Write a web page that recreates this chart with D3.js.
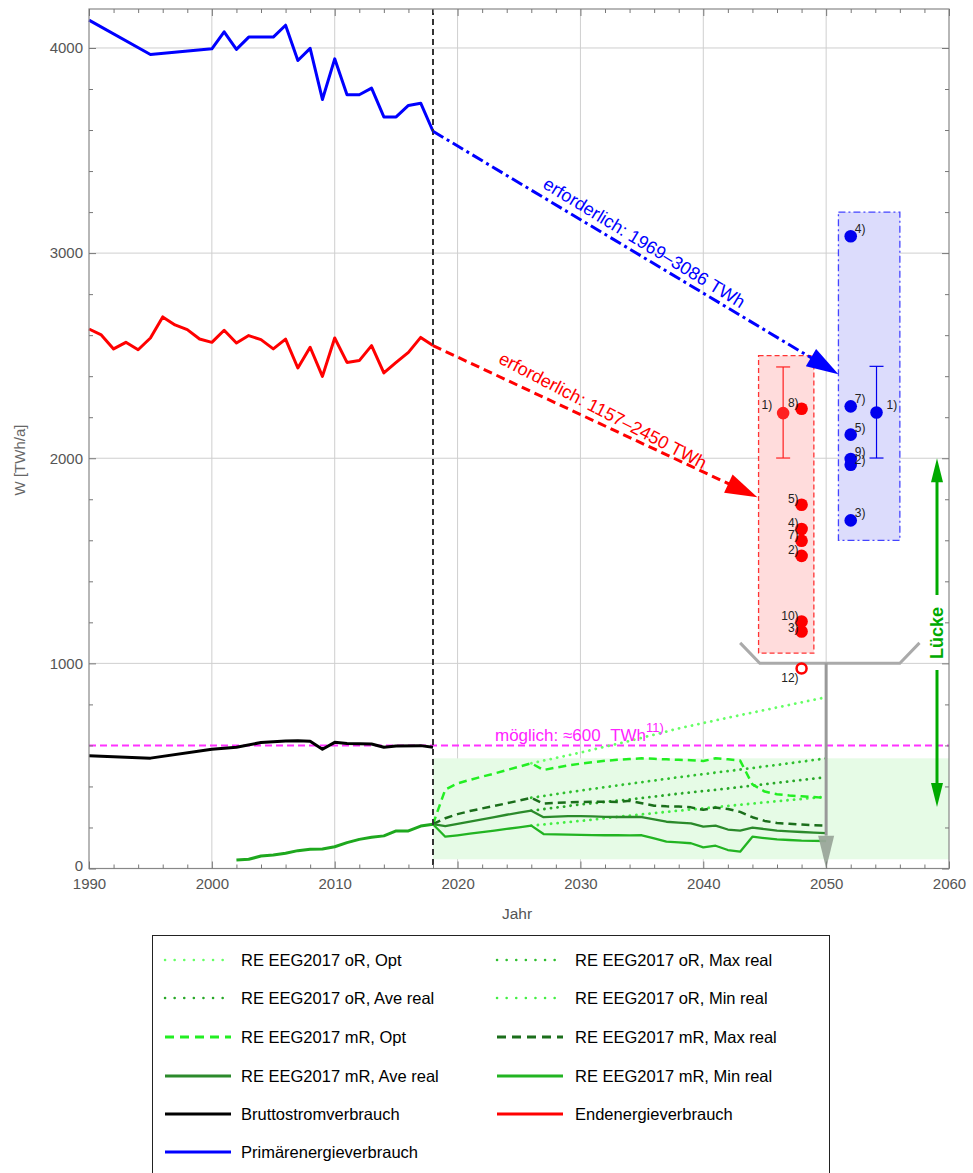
<!DOCTYPE html>
<html><head><meta charset="utf-8">
<script src="https://cdn.jsdelivr.net/npm/d3@7/dist/d3.min.js"></script>
<style>
html,body{margin:0;padding:0;background:#fff;}
svg{display:block;font-family:"Liberation Sans",Arial,sans-serif;}
</style></head>
<body><svg id="c" width="973" height="1173"></svg>
<script>
// ---------- DATA ----------
const primYears = [1990,1995,2000,2001,2002,2003,2004,2005,2006,2007,2008,2009,2010,2011,2012,2013,2014,2015,2016,2017,2018];
const primValues = [4136,3968,3996,4079,3993,4053,4053,4053,4111,3939,3998,3749,3947,3772,3772,3804,3664,3664,3720,3731,3594];

const endYears = [1990,1991,1992,1993,1994,1995,1996,1997,1998,1999,2000,2001,2002,2003,2004,2005,2006,2007,2008,2009,2010,2011,2012,2013,2014,2015,2016,2017,2018];
const endValues = [2630,2601,2533,2565,2529,2586,2689,2650,2627,2581,2565,2624,2562,2598,2578,2533,2581,2440,2541,2399,2586,2467,2476,2549,2416,2467,2516,2589,2549];

const stromYears = [1990,1995,2000,2002,2004,2006,2007,2008,2009,2010,2011,2013,2014,2015,2017,2018];
const stromValues = [550,538,581,591,614,622,623,620,581,615,609,607,591,597,599,591];

const reHistYears = [2002,2003,2004,2005,2006,2007,2008,2009,2010,2011,2012,2013,2014,2015,2016,2017,2018];
const reHistValues = [41,45,61,66,74,87,94,95,106,126,142,152,159,183,183,207,216];

const futYears = [2018,2019,2020,2021,2022,2023,2024,2025,2026,2027,2028,2029,2030,2031,2032,2033,2034,2035,2036,2037,2038,2039,2040,2041,2042,2043,2044,2045,2046,2047,2048,2049,2050];
const mROpt     = [216,385,415,432,448,463,480,496,513,480,492,502,511,518,525,530,534,537,535,532,530,528,524,537,532,526,410,375,362,356,352,348,344];
const mRMaxReal = [216,245,265,280,293,305,318,331,345,316,320,322,324,325,326,324,330,318,306,303,302,298,286,297,290,276,250,232,222,218,214,211,209];
const mRAveReal = [216,207,218,229,240,251,262,272,282,250,253,255,255,254,252,251,251,251,240,228,224,220,204,209,190,185,199,192,185,181,178,175,172];
const mRMinReal = [216,155,162,170,177,185,193,201,209,168,166,165,164,163,162,162,161,162,147,131,127,123,103,111,90,82,155,148,142,139,136,135,134];

const oRYears   = [2026,2030,2034,2038,2042,2046,2050];
const oROpt     = [513,565,622,683,735,785,835];
const oRMaxReal = [345,380,413,445,475,505,537];
const oRAveReal = [282,312,337,365,390,418,445];
const oRMinReal = [209,232,258,282,305,328,350];

const redPtYear = 2048;
const redPtLabels = ["8)","5)","4)","7)","2)","10)","3)"];
const redPtValues = [2241,1773,1655,1598,1524,1204,1155];
const redErr = {year:2046.5, value:2220, lo:2001, hi:2445, label:"1)"};
const redOpen = {year:2048, value:975, label:"12)"};
const redBox = {x0:2044.5, x1:2049, y0:1050, y1:2500};

const bluePtYear = 2052;
const bluePtLabels = ["4)","7)","5)","9)","2)","3)"];
const bluePtValues = [3082,2253,2115,1996,1968,1697];
const blueErr = {year:2054.1, value:2223, lo:2001, hi:2448, label:"1)"};
const blueBox = {x0:2051, x1:2056, y0:1600, y1:3200};

const possibleValue = 600;
const greenBand = {x0:2018, x1:2060, y0:45, y1:537};
const gapRange = [300, 2000];
const bracketYears = [2043, 2044.6, 2056, 2057.6];
const bracketValues = [1100, 1000, 1000, 1100];

const xMajor = [1990,2000,2010,2020,2030,2040,2050,2060];
const yMajor = [0,1000,2000,3000,4000];

const legendItems = [
  ["RE EEG2017 oR, Opt", "#66ff66", "dot"],
  ["RE EEG2017 oR, Max real", "#2fbf2f", "dot"],
  ["RE EEG2017 oR, Ave real", "#28a828", "dot"],
  ["RE EEG2017 oR, Min real", "#44ee44", "dot"],
  ["RE EEG2017 mR, Opt", "#22ee22", "dash"],
  ["RE EEG2017 mR, Max real", "#1b6e1b", "dash"],
  ["RE EEG2017 mR, Ave real", "#2b8a2b", "solid"],
  ["RE EEG2017 mR, Min real", "#22b422", "solid"],
  ["Bruttostromverbrauch", "#000000", "solid"],
  ["Endenergieverbrauch", "#ff0000", "solid"],
  ["Primärenergieverbrauch", "#0000ff", "solid"]
];

// ---------- SCALES ----------
const svg = d3.select("#c");
const X = d3.scaleLinear().domain([1990,2060]).range([89,949]);
const Y = d3.scaleLinear().domain([0,4190]).range([868.5,9]);
const line = d3.line().x(d=>X(d[0])).y(d=>Y(d[1]));
const zip = (a,b)=>a.map((v,i)=>[v,b[i]]);

// grid
const g = svg.append("g");
g.selectAll(".vg").data(xMajor.slice(1,-1)).join("line")
  .attr("x1",d=>X(d)).attr("x2",d=>X(d)).attr("y1",Y.range()[1]).attr("y2",Y.range()[0])
  .attr("stroke","#cfcfcf").attr("stroke-width",1);
g.selectAll(".hg").data(yMajor.slice(1)).join("line")
  .attr("x1",X.range()[0]).attr("x2",X.range()[1]).attr("y1",d=>Y(d)).attr("y2",d=>Y(d))
  .attr("stroke","#cfcfcf").attr("stroke-width",1);

// green band
svg.append("rect").attr("x",X(greenBand.x0)).attr("width",X(greenBand.x1)-X(greenBand.x0))
  .attr("y",Y(greenBand.y1)).attr("height",Y(greenBand.y0)-Y(greenBand.y1))
  .attr("fill","#e6fbe6");

// boxes
svg.append("rect").attr("x",X(redBox.x0)).attr("width",X(redBox.x1)-X(redBox.x0))
  .attr("y",Y(redBox.y1)).attr("height",Y(redBox.y0)-Y(redBox.y1))
  .attr("fill","#ffdcdc").attr("stroke","#ff3333").attr("stroke-width",1.3).attr("stroke-dasharray","5,3");
svg.append("rect").attr("x",X(blueBox.x0)).attr("width",X(blueBox.x1)-X(blueBox.x0))
  .attr("y",Y(blueBox.y1)).attr("height",Y(blueBox.y0)-Y(blueBox.y1))
  .attr("fill","#dcdcfc").attr("stroke","#4444ff").attr("stroke-width",1.3).attr("stroke-dasharray","7,3,2,3");

// magenta possible line
svg.append("line").attr("x1",X(1990)).attr("x2",X(2060)).attr("y1",Y(possibleValue)).attr("y2",Y(possibleValue))
  .attr("stroke","#ff33ff").attr("stroke-width",2).attr("stroke-dasharray","7,4");

// series lines
function drawLine(xs, vs, color, w, dash){
  const p = svg.append("path").datum(zip(xs,vs)).attr("d",line).attr("fill","none")
    .attr("stroke",color).attr("stroke-width",w).attr("stroke-linejoin","round");
  if(dash==="dot") p.attr("stroke-dasharray","0.1,6.5").attr("stroke-linecap","round");
  else if(dash==="dash") p.attr("stroke-dasharray","8,5");
  return p;
}
drawLine(oRYears,oROpt,"#66ff66",2.8,"dot");
drawLine(oRYears,oRMaxReal,"#2fbf2f",2.8,"dot");
drawLine(oRYears,oRAveReal,"#28a828",2.8,"dot");
drawLine(oRYears,oRMinReal,"#44ee44",2.8,"dot");
drawLine(futYears,mROpt,"#22ee22",2.5,"dash");
drawLine(futYears,mRMaxReal,"#1b6e1b",2.5,"dash");
drawLine(futYears,mRAveReal,"#2b8a2b",2.3,"solid");
drawLine(futYears,mRMinReal,"#22b422",2.3,"solid");
drawLine(reHistYears,reHistValues,"#1ea81e",3,"solid");
drawLine(stromYears,stromValues,"#000000",3,"solid");
drawLine(endYears,endValues,"#ff0000",3,"solid");
drawLine(primYears,primValues,"#0000ff",3,"solid");

// 2018 dashed vertical
svg.append("line").attr("x1",X(2018)).attr("x2",X(2018)).attr("y1",Y.range()[1]).attr("y2",Y.range()[0])
  .attr("stroke","#333").attr("stroke-width",2).attr("stroke-dasharray","6,4");

// arrows
function arrow(x1,y1,x2,y2,color,dash,len,hw){
  const ang = Math.atan2(y2-y1,x2-x1);
  const bx = x2-len*Math.cos(ang), by = y2-len*Math.sin(ang);
  svg.append("line").attr("x1",x1).attr("y1",y1).attr("x2",bx+3*Math.cos(ang)).attr("y2",by+3*Math.sin(ang))
    .attr("stroke",color).attr("stroke-width",3).attr("stroke-dasharray",dash);
  const px=-Math.sin(ang), py=Math.cos(ang);
  svg.append("path").attr("d",`M${x2},${y2}L${bx+hw*px},${by+hw*py}L${bx-hw*px},${by-hw*py}Z`).attr("fill",color);
  return ang*180/Math.PI;
}
const blueLast = primValues[primValues.length-1];
const redLast = endValues[endValues.length-1];
const aB = arrow(X(2018),Y(blueLast),X(2051),Y(2410),"#0000ff","12,4,3,4",32,10);
const aR = arrow(X(2018),Y(redLast),X(2044.4),Y(1810),"#ff0000","9,5",32,10);

svg.append("text").attr("transform",`translate(641,248) rotate(${aB+0.5})`).attr("text-anchor","middle")
  .attr("fill","#0000ff").attr("font-size",18).text("erforderlich: 1969–3086 TWh");
svg.append("text").attr("transform",`translate(600,416) rotate(${aR+2.5})`).attr("text-anchor","middle")
  .attr("fill","#ff0000").attr("font-size",18).text("erforderlich: 1157–2450 TWh");

// magenta text
const mt = svg.append("text").attr("x",495).attr("y",741).attr("fill","#ff22ff").attr("font-size",17);
mt.append("tspan").text("möglich: ≈600\u00a0\u00a0TWh");
mt.append("tspan").attr("dy",-9).attr("font-size",13).text("11)");

// gray bracket and arrow
svg.append("path").datum(zip(bracketYears,bracketValues)).attr("d",line).attr("fill","none")
  .attr("stroke","#aaaaaa").attr("stroke-width",3);
svg.append("line").attr("x1",X(2050)).attr("x2",X(2050)).attr("y1",Y(1000)).attr("y2",Y(160))
  .attr("stroke","#999").attr("stroke-width",3);
svg.append("path").attr("d",`M${X(2050)-8},${Y(160)}L${X(2050)+8},${Y(160)}L${X(2050)},${Y(0)}Z`)
  .attr("fill","#9aa69a").attr("opacity",0.95);

// Lücke arrow
const lx = 937;
const lTop = Y(gapRange[1]), lBot = Y(gapRange[0]);
svg.append("line").attr("x1",lx).attr("x2",lx).attr("y1",lTop+18).attr("y2",595).attr("stroke","#00aa00").attr("stroke-width",3);
svg.append("line").attr("x1",lx).attr("x2",lx).attr("y1",670).attr("y2",lBot-18).attr("stroke","#00aa00").attr("stroke-width",3);
svg.append("path").attr("d",`M${lx},${lTop}L${lx-6},${lTop+24}L${lx+6},${lTop+24}Z`).attr("fill","#00aa00");
svg.append("path").attr("d",`M${lx},${lBot}L${lx-6},${lBot-24}L${lx+6},${lBot-24}Z`).attr("fill","#00aa00");
svg.append("text").attr("transform",`translate(${lx+6},633) rotate(-90)`).attr("text-anchor","middle")
  .attr("fill","#00aa00").attr("font-weight","bold").attr("font-size",18).text("Lücke");

// error bars & points
function errBar(e,color){
  const cx=X(e.year);
  svg.append("line").attr("x1",cx).attr("x2",cx).attr("y1",Y(e.hi)).attr("y2",Y(e.lo)).attr("stroke",color).attr("stroke-width",1.2);
  [e.hi,e.lo].forEach(v=>svg.append("line").attr("x1",cx-7).attr("x2",cx+7).attr("y1",Y(v)).attr("y2",Y(v)).attr("stroke",color).attr("stroke-width",1.2));
  svg.append("circle").attr("cx",cx).attr("cy",Y(e.value)).attr("r",6.3).attr("fill",color);
}
errBar(redErr,"#ff2020");
errBar(blueErr,"#0000ee");
svg.selectAll(".rp").data(redPtValues).join("circle").attr("cx",X(redPtYear)).attr("cy",d=>Y(d)).attr("r",6.3).attr("fill","#ff0000");
svg.selectAll(".bp").data(bluePtValues).join("circle").attr("cx",X(bluePtYear)).attr("cy",d=>Y(d)).attr("r",6.3).attr("fill","#0000ee");
svg.append("circle").attr("cx",X(redOpen.year)).attr("cy",Y(redOpen.value)).attr("r",5).attr("fill","none").attr("stroke","#ff0000").attr("stroke-width",2.5);

const lblFont = 12;
svg.selectAll(".rl").data(redPtValues).join("text").attr("x",X(redPtYear)-3).attr("y",(d,i)=>Y(d)-2+(redPtLabels[i]==="3)"?2:0))
  .attr("text-anchor","end").attr("font-size",lblFont).attr("fill","#222").text((d,i)=>redPtLabels[i]);
svg.append("text").attr("x",X(redErr.year)-11).attr("y",Y(redErr.value)-4).attr("text-anchor","end")
  .attr("font-size",lblFont).attr("fill","#222").text(redErr.label);
svg.append("text").attr("x",X(redOpen.year)-3).attr("y",Y(redOpen.value)+14).attr("text-anchor","end")
  .attr("font-size",lblFont).attr("fill","#222").text(redOpen.label);
svg.selectAll(".bl").data(bluePtValues).join("text").attr("x",X(bluePtYear)+4).attr("y",(d,i)=>Y(d)-3+(bluePtLabels[i]==="2)"?2:0))
  .attr("font-size",lblFont).attr("fill","#222").text((d,i)=>bluePtLabels[i]);
svg.append("text").attr("x",X(blueErr.year)+10).attr("y",Y(blueErr.value)-3)
  .attr("font-size",lblFont).attr("fill","#222").text(blueErr.label);

// frame + axes
svg.append("rect").attr("x",X.range()[0]).attr("y",Y.range()[1]).attr("width",X.range()[1]-X.range()[0])
  .attr("height",Y.range()[0]-Y.range()[1]).attr("fill","none").attr("stroke","#888").attr("stroke-width",1.2);
const xMinor = d3.range(1990,2061,2).filter(v=>v%10!==0);
const yMinor = d3.range(0,4190,200).filter(v=>v%1000!==0);
function styleAxis(sel){ sel.select(".domain").remove(); sel.selectAll("line").attr("stroke","#777"); sel.selectAll("text").attr("fill","#555").attr("font-size",15).attr("font-family","Liberation Sans, Arial, sans-serif"); }
svg.append("g").attr("transform",`translate(0,${Y.range()[0]})`).call(d3.axisBottom(X).tickValues(xMajor).tickSize(-7).tickPadding(10).tickFormat(d3.format("d"))).call(styleAxis);
svg.append("g").attr("transform",`translate(0,${Y.range()[0]})`).call(d3.axisBottom(X).tickValues(xMinor).tickSize(-4).tickFormat("")).call(styleAxis);
svg.append("g").attr("transform",`translate(0,${Y.range()[1]})`).call(d3.axisTop(X).tickValues(xMajor).tickSize(-7).tickFormat("")).call(styleAxis);
svg.append("g").attr("transform",`translate(0,${Y.range()[1]})`).call(d3.axisTop(X).tickValues(xMinor).tickSize(-4).tickFormat("")).call(styleAxis);
const yAx = svg.append("g").attr("transform",`translate(${X.range()[0]},0)`).call(d3.axisLeft(Y).tickValues(yMajor).tickSize(-7).tickPadding(6).tickFormat(d3.format("d"))).call(styleAxis);
yAx.selectAll("text").filter(d=>d===0).attr("dy","0.15em");
svg.append("g").attr("transform",`translate(${X.range()[0]},0)`).call(d3.axisLeft(Y).tickValues(yMinor).tickSize(-4).tickFormat("")).call(styleAxis);
svg.append("g").attr("transform",`translate(${X.range()[1]},0)`).call(d3.axisRight(Y).tickValues(yMajor).tickSize(-7).tickFormat("")).call(styleAxis);
svg.append("g").attr("transform",`translate(${X.range()[1]},0)`).call(d3.axisRight(Y).tickValues(yMinor).tickSize(-4).tickFormat("")).call(styleAxis);

svg.append("text").attr("x",517).attr("y",919).attr("text-anchor","middle").attr("fill","#555").attr("font-size",15.5).text("Jahr");
svg.append("text").attr("transform","translate(25,460) rotate(-90)").attr("text-anchor","middle").attr("fill","#666").attr("font-size",15).text("W [TWh/a]");

// legend
svg.append("rect").attr("x",152.5).attr("y",935.5).attr("width",677).attr("height",240).attr("fill","#fff").attr("stroke","#222").attr("stroke-width",1);
const rowY = [960,998,1037,1076,1114,1152];
legendItems.forEach((it,i)=>{
  const col=i%2, row=Math.floor(i/2);
  const x0 = col===0?165:497, tx = col===0?241:575, yy=rowY[row];
  const l = svg.append("line").attr("x1",x0).attr("x2",x0+66).attr("y1",yy).attr("y2",yy).attr("stroke",it[1]).attr("stroke-width",it[2]==="dot"?2.5:3);
  if(it[2]==="dot") l.attr("stroke-dasharray","0.1,9.5").attr("stroke-linecap","round");
  if(it[2]==="dash") l.attr("stroke-dasharray","9,6");
  svg.append("text").attr("x",tx).attr("y",yy+6).attr("font-size",16.5).attr("fill","#000").text(it[0]);
});
</script></body></html>
